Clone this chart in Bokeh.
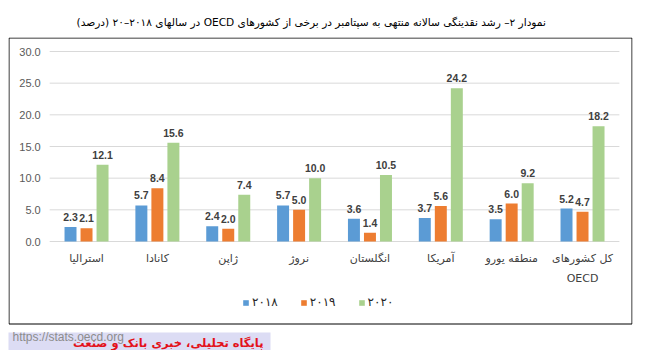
from bokeh.plotting import figure
from bokeh.models import (Range1d, Legend, LegendItem, BoxAnnotation, ColumnDataSource)
from bokeh.transform import dodge
from bokeh.core.properties import value
from bokeh.embed import file_html
from bokeh.resources import INLINE

categories = ["استرالیا", "کانادا", "ژاپن", "نروژ", "انگلستان", "آمریکا", "منطقه یورو", "کل کشورهای\nOECD"]
v2018 = [2.3, 5.7, 2.4, 5.7, 3.6, 3.7, 3.5, 5.2]
v2019 = [2.1, 8.4, 2.0, 5.0, 1.4, 5.6, 6.0, 4.7]
v2020 = [12.1, 15.6, 7.4, 10.0, 10.5, 24.2, 9.2, 18.2]
series_names = ["۲۰۱۸", "۲۰۱۹", "۲۰۲۰"]
colors = ["#5B9BD5", "#ED7D31", "#A9D18E"]
y_ticks = [0, 5, 10, 15, 20, 25, 30]
title_text = "نمودار ۲– رشد نقدینگی سالانه منتهی به سپتامبر در برخی از کشورهای OECD در سالهای ۲۰۱۸–۲۰ (درصد)"
source_text = "https://stats.oecd.org"
banner_text = "پایگاه تحلیلی، خبری بانک و صنعت"

n = len(categories)
x_pos = list(range(n))
src = ColumnDataSource(dict(
    x=x_pos, cat=categories,
    s0=v2018, s1=v2019, s2=v2020,
    l0=[f"{v:.1f}" for v in v2018],
    l1=[f"{v:.1f}" for v in v2019],
    l2=[f"{v:.1f}" for v in v2020],
))
tick_src = ColumnDataSource(dict(
    y=y_ticks, lab=[f"{t:.1f}" for t in y_ticks],
    x0=[-0.52] * len(y_ticks), x1=[n - 0.48] * len(y_ticks),
))

# layout (pixels -> data units)
W, H = 650, 350
FRAME_L, FRAME_R, FRAME_T = 8, 632, 37
PX_X = 70.857          # pixels per category
PX_Y = 190 / 30        # pixels per percent
ZERO_Y = 241           # pixel row of the 0 line
X0 = -0.5 - (50.6 - FRAME_L) / PX_X
X1 = X0 + (FRAME_R - FRAME_L) / PX_X
Y1 = (ZERO_Y - FRAME_T) / PX_Y
Y0 = -(H - ZERO_Y) / PX_Y
BOX_L = X0 + 0.5 / PX_X
BOX_R = X1 - 0.5 / PX_X
BOX_T = Y1 - 0.5 / PX_Y
BOX_B = -(323.5 - ZERO_Y) / PX_Y
BANNER_TOP = -(332 - ZERO_Y) / PX_Y
BANNER_LEFT = X0 - FRAME_L / PX_X
BANNER_RIGHT = X0 + (270 - FRAME_L) / PX_X

p = figure(x_range=Range1d(X0, X1), y_range=Range1d(Y0, Y1),
           width=W, height=H, output_backend="svg", toolbar_location=None,
           x_axis_type=None, y_axis_type=None,
           min_border_left=FRAME_L, min_border_right=W - FRAME_R,
           min_border_top=FRAME_T, min_border_bottom=0)
p.outline_line_color = None
p.background_fill_color = "white"
p.border_fill_color = "white"
p.grid.visible = False

# title
p.title.text = "\u202b" + title_text + "\u202c"
p.title.align = "left"
p.title.offset = 68
p.title.text_font = "DejaVu Sans"
p.title.text_font_size = "10.6px"
p.title.text_font_style = "normal"
p.title.text_color = "#000000"
p.title.standoff = 20

# chart box
p.add_layout(BoxAnnotation(left=BOX_L, right=BOX_R, top=BOX_T, bottom=BOX_B,
                           fill_alpha=0, line_color="black",
                           line_alpha=1, line_width=1, level="underlay"))
# watermark banner background
p.add_layout(BoxAnnotation(top=BANNER_TOP, left=BANNER_LEFT, right=BANNER_RIGHT,
                           fill_color="#DCDCF4", fill_alpha=1, line_color=None,
                           level="underlay"))

# gridlines and y tick labels
p.segment(x0="x0", x1="x1", y0="y", y1="y", source=tick_src, line_color="#D9D9D9", line_width=1)
p.text(x="x0", y="y", text="lab", source=tick_src, x_offset=-9,
       text_align="right", text_baseline="middle",
       text_font=value("Liberation Sans"), text_font_size="11px", text_color="#595959")

# category labels
p.text(x="x", y=0, text="cat", source=src, y_offset=10,
       text_align="center", text_baseline="top", text_line_height=1.55,
       text_font=value("DejaVu Sans"), text_font_size="11px", text_color="#404040")

bw = 0.169
offs = [-0.226, 0.0, 0.226]
items = []
for i in range(3):
    r = p.vbar(x=dodge("x", offs[i]), top=f"s{i}", width=bw, bottom=0,
               source=src, fill_color=colors[i], line_color=None)
    p.text(x=dodge("x", offs[i]), y=f"s{i}", text=f"l{i}", source=src,
           text_align="center", text_baseline="alphabetic", y_offset=-10,
           text_font=value("Liberation Sans"), text_font_size="10.5px",
           text_font_style="bold", text_color="#404040")
    items.append(LegendItem(label=series_names[i], renderers=[r]))

legend = Legend(items=items, orientation="horizontal", location=(234, 41),
                glyph_width=7, glyph_height=7, label_standoff=3, spacing=22,
                label_text_font="DejaVu Sans", label_text_font_size="12px",
                label_text_color="#262626", border_line_color=None,
                background_fill_alpha=0, padding=2, margin=0)
p.add_layout(legend, "center")

# watermark texts
p.text(x=[X0], y=[Y0], text=[source_text], x_offset=4, y_offset=-14,
       text_align="left", text_baseline="middle",
       text_font=value("Liberation Sans"), text_font_size="12px", text_color="#8C8C8C")
p.text(x=[X0], y=[Y0], text=[banner_text], x_offset=255, y_offset=-8,
       text_align="right", text_baseline="middle",
       text_font=value("DejaVu Sans"), text_font_size="11.5px", text_font_style="bold",
       text_color="#E3121B")

open("out.html", "w").write(file_html(p, INLINE))
